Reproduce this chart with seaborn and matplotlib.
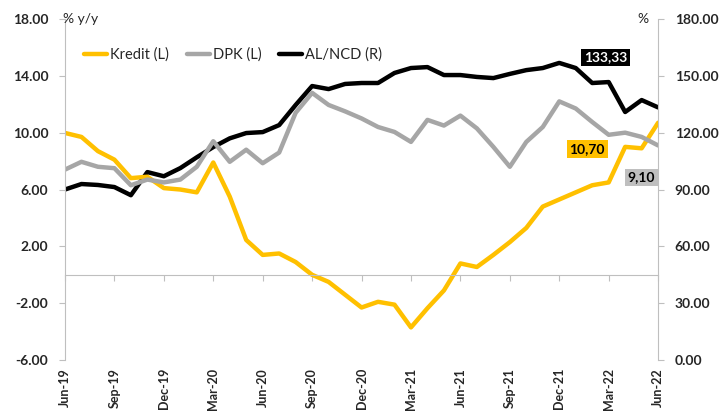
import matplotlib
matplotlib.use("Agg")
import matplotlib.pyplot as plt
import seaborn as sns
import pandas as pd

# monthly data, Jun-19 .. Jun-22
MONTHS = pd.date_range("2019-06-01", periods=37, freq="MS").strftime("%b-%y").tolist()

KREDIT = [9.98, 9.7, 8.7, 8.1, 6.8, 6.9, 6.1, 6.0, 5.8, 7.9, 5.5, 2.45,
          1.4, 1.5, 0.9, 0.0, -0.5, -1.4, -2.3, -1.9, -2.1, -3.7, -2.35, -1.1,
          0.8, 0.55, 1.4, 2.3, 3.3, 4.8, 5.3, 5.8, 6.3, 6.5, 9.0, 8.9, 10.70]

DPK = [7.4, 7.95, 7.6, 7.5, 6.3, 6.7, 6.5, 6.7, 7.6, 9.4, 7.95, 8.8,
       7.85, 8.6, 11.4, 12.8, 11.95, 11.5, 11.0, 10.4, 10.05, 9.35, 10.9, 10.5,
       11.2, 10.3, 9.0, 7.6, 9.35, 10.4, 12.2, 11.7, 10.75, 9.85, 10.0, 9.7, 9.10]

ALNCD = [90.0, 92.9, 92.4, 91.3, 87.0, 99.2, 97.0, 101.3, 107.0, 112.4, 117.0, 119.8,
         120.3, 124.0, 134.6, 144.6, 143.0, 145.7, 146.2, 146.2, 151.5, 154.1, 154.6, 150.4,
         150.4, 149.4, 148.8, 151.0, 153.0, 154.1, 156.8, 154.1, 146.2, 146.7, 130.9, 137.2, 133.33]

LEFT_TICKS = [-6, -2, 2, 6, 10, 14, 18]
RIGHT_TICKS = [0, 30, 60, 90, 120, 150, 180]

YELLOW = "#FFC000"
GREY = "#A6A6A6"
BLACK = "#000000"
AXIS_GREY = "#BFBFBF"

df = pd.DataFrame({"i": range(len(MONTHS)), "month": MONTHS,
                   "Kredit": KREDIT, "DPK": DPK, "ALNCD": ALNCD})

sns.set_style("white")
plt.rcParams["font.family"] = ["Lato", "DejaVu Sans"]

fig = plt.figure(figsize=(7.26, 4.12), dpi=100)
ax = fig.add_axes([0.0895, 0.126, 0.817, 0.828])
ax2 = ax.twinx()

sns.lineplot(data=df, x="i", y="Kredit", ax=ax, color=YELLOW, lw=3.2, label="Kredit (L)", legend=False)
sns.lineplot(data=df, x="i", y="DPK", ax=ax, color=GREY, lw=3.2, label="DPK (L)", legend=False)
sns.lineplot(data=df, x="i", y="ALNCD", ax=ax2, color=BLACK, lw=3.2, label="AL/NCD (R)", legend=False)

# x axis sits on zero, labels stay at the bottom (do this before setting ticks)
for a in (ax, ax2):
    for s in a.spines.values():
        s.set_visible(False)
ax.spines["bottom"].set_visible(True)
ax.spines["bottom"].set_position(("data", 0))
ax.spines["bottom"].set_color(AXIS_GREY)
ax.spines["left"].set_visible(True)
ax.spines["left"].set_color(AXIS_GREY)
ax2.spines["right"].set_visible(True)
ax2.spines["right"].set_color(AXIS_GREY)

ax.set_ylim(-6, 18)
ax2.set_ylim(0, 180)
ax.set_xlim(0, len(MONTHS) - 1)
ax.set_yticks(LEFT_TICKS)
ax.set_yticklabels([f"{v:.2f}" for v in LEFT_TICKS], fontweight="bold", fontsize=10)
ax2.set_yticks(RIGHT_TICKS)
ax2.set_yticklabels([f"{v:.2f}" for v in RIGHT_TICKS], fontweight="bold", fontsize=10)

xt = list(range(0, len(MONTHS), 3))
ax.set_xticks(xt)
ax.set_xticklabels([MONTHS[k] for k in xt], rotation=90, fontweight="bold", fontsize=9,
                   va="top", ha="center")
ax.set_xlabel("")
ax.set_ylabel("")
ax2.set_ylabel("")

ax.tick_params(axis="x", length=4, color=AXIS_GREY, pad=63, direction="out", bottom=True)
ax.tick_params(axis="y", length=4, color=AXIS_GREY, pad=8, left=True)
ax2.tick_params(axis="y", length=4, color=AXIS_GREY, pad=8, right=True)
ax.grid(False)
ax2.grid(False)
ax.set_zorder(ax2.get_zorder() + 1)
ax.patch.set_visible(False)

fig.text(0.087, 0.953, "% y/y", fontsize=10, ha="left", va="center")
fig.text(0.893, 0.953, "%", fontsize=10, ha="right", va="center")

# legend
h1, l1 = ax.get_legend_handles_labels()
h2, l2 = ax2.get_legend_handles_labels()
ax.legend(h1 + h2, l1 + l2, loc="center left", bbox_to_anchor=(0.01, 0.895), ncol=3,
          frameon=False, fontsize=10.5, handlelength=1.6, handletextpad=0.2, columnspacing=1.2)

# end value labels
last = len(MONTHS) - 1
ax2.annotate(f"{ALNCD[-1]:.2f}".replace(".", ","), xy=(last, ALNCD[-1]), xytext=(-38, 36),
             textcoords="offset points", ha="center", va="center", color="white",
             fontweight="bold", fontsize=10,
             bbox=dict(boxstyle="square,pad=0.2", fc=BLACK, ec="none"))
ax.annotate(f"{KREDIT[-1]:.2f}".replace(".", ","), xy=(last, KREDIT[-1]), xytext=(-51, -19),
            textcoords="offset points", ha="center", va="center", color="black",
            fontweight="bold", fontsize=10,
            bbox=dict(boxstyle="square,pad=0.2", fc=YELLOW, ec="none"))
ax.annotate(f"{DPK[-1]:.2f}".replace(".", ","), xy=(last, DPK[-1]), xytext=(-12, -23),
            textcoords="offset points", ha="center", va="center", color="black",
            fontweight="bold", fontsize=10,
            bbox=dict(boxstyle="square,pad=0.2", fc="#BFBFBF", ec="none"))

fig.savefig("out.png", dpi=100, facecolor="white")
